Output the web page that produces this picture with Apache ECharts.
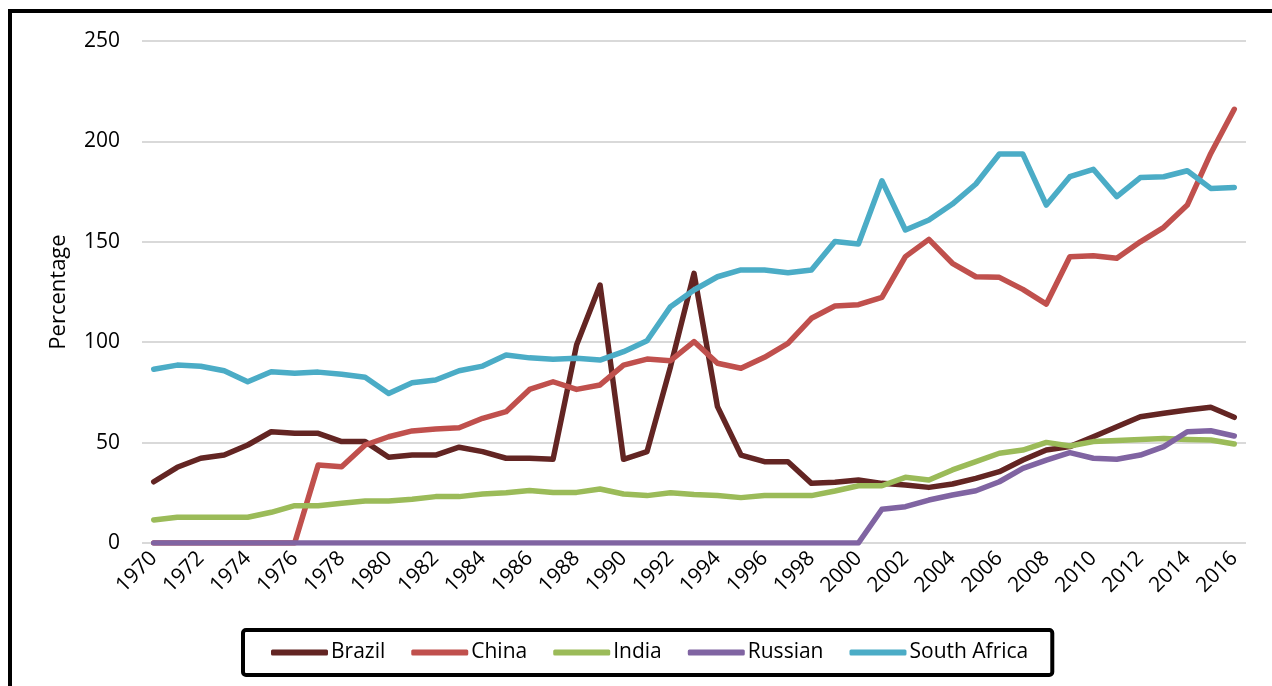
<!DOCTYPE html>
<html>
<head>
<meta charset="utf-8">
<script src="https://cdn.jsdelivr.net/npm/echarts@6/dist/echarts.min.js"></script>
<style>
html,body{margin:0;padding:0;background:#fff;}
#chart{width:1272px;height:686px;}
</style>
</head>
<body>
<div id="chart"></div>
<script>
var years = [];
for (var y = 1970; y <= 2016; y++) years.push(String(y));

var brazil = [30.5, 37.7, 42.2, 43.8, 48.8, 55.4, 54.6, 54.6, 50.5, 50.5,
  42.7, 43.8, 43.8, 47.7, 45.5, 42.2, 42.2, 41.7, 98.6, 128.5,
  41.7, 45.5, 87.8, 134.3, 67.9, 43.8, 40.5, 40.5, 29.7, 30.2,
  31.4, 29.7, 28.9, 27.7, 29.4, 32.2, 35.5, 41.3, 46.3, 48,
  52.9, 57.9, 62.9, 64.6, 66.2, 67.6, 62.6];
var china = [0, 0, 0, 0, 0, 0, 0, 38.8, 38, 48.8,
  52.9, 55.8, 56.8, 57.4, 62.1, 65.4, 76.5, 80.3, 76.5, 78.7,
  88.6, 91.6, 90.8, 100.3, 89.5, 87, 92.5, 99.4, 111.9, 118,
  118.7, 122.3, 142.6, 151.2, 139.3, 132.6, 132.3, 126.3, 119, 142.6,
  143.1, 141.8, 150, 157.2, 168.3, 194, 216];
var india = [11.5, 12.8, 12.8, 12.8, 12.8, 15.3, 18.6, 18.6, 19.8, 20.9,
  20.9, 21.8, 23.1, 23.1, 24.4, 25, 26.2, 25.2, 25.2, 26.9,
  24.4, 23.6, 25, 24.1, 23.6, 22.6, 23.6, 23.6, 23.6, 25.9,
  28.5, 28.5, 32.7, 31.4, 36.4, 40.5, 44.7, 46.3, 50.1, 48.3,
  50.5, 51, 51.6, 52.1, 51.6, 51.3, 49.3];
var russian = [0, 0, 0, 0, 0, 0, 0, 0, 0, 0,
  0, 0, 0, 0, 0, 0, 0, 0, 0, 0,
  0, 0, 0, 0, 0, 0, 0, 0, 0, 0,
  0, 16.8, 18.1, 21.4, 23.9, 26, 30.5, 37.2, 41.3, 45,
  42.2, 41.7, 43.8, 48, 55.4, 55.9, 53.3];
var southAfrica = [86.5, 88.6, 88, 85.8, 80.3, 85.3, 84.5, 85.1, 84, 82.5,
  74.5, 79.8, 81.2, 85.8, 88.1, 93.6, 92.2, 91.5, 92, 91.1,
  95.3, 100.7, 117.7, 126, 132.6, 136, 136, 134.6, 136, 150.2,
  148.9, 180.4, 155.9, 160.9, 168.8, 178.8, 193.7, 193.7, 168.3, 182.4,
  186.1, 172.5, 182, 182.4, 185.4, 176.6, 177.1];

var seriesNames = ['Brazil', 'China', 'India', 'Russian', 'South Africa'];
var seriesData = [brazil, china, india, russian, southAfrica];
var colors = ['#632523', '#C0504D', '#9BBB59', '#8064A2', '#4BACC6'];

var FONT = '"Open Sans", "Noto Sans", sans-serif';

var chart = echarts.init(document.getElementById('chart'), null, {renderer: 'canvas'});
chart.setOption({
  animation: false,
  backgroundColor: '#fff',
  color: colors,
  textStyle: {fontFamily: FONT, color: '#000'},
  graphic: [{
    type: 'rect',
    z: -1,
    shape: {x: 10, y: 11, width: 1300, height: 700},
    style: {fill: 'none', stroke: '#000', lineWidth: 4}
  }],
  grid: {left: 142, right: 26, top: 41, bottom: 143, containLabel: false},
  legend: {
    data: seriesNames,
    left: 243,
    top: 630,
    orient: 'horizontal',
    icon: 'roundRect',
    itemWidth: 57,
    itemHeight: 6,
    itemGap: 26,
    padding: [12, 24, 12, 28],
    borderColor: '#000',
    borderWidth: 4,
    borderRadius: 3,
    textStyle: {fontFamily: FONT, fontSize: 21, color: '#000', padding: [0, 0, 0, -2]}
  },
  xAxis: {
    type: 'category',
    data: years,
    boundaryGap: true,
    axisLine: {show: false},
    axisTick: {show: false},
    axisLabel: {
      interval: 1,
      rotate: 45,
      margin: 12,
      fontFamily: FONT,
      fontSize: 21,
      color: '#000'
    },
    splitLine: {show: false}
  },
  yAxis: {
    type: 'value',
    min: 0,
    max: 250,
    interval: 50,
    name: 'Percentage',
    nameLocation: 'middle',
    nameGap: 72,
    nameRotate: 90,
    nameTextStyle: {fontFamily: FONT, fontSize: 22, color: '#000'},
    axisLine: {show: false},
    axisTick: {show: false},
    axisLabel: {fontFamily: FONT, fontSize: 21, color: '#000', margin: 22},
    splitLine: {lineStyle: {color: '#D9D9D9', width: 2}}
  },
  series: seriesNames.map(function (n, i) {
    return {
      name: n,
      type: 'line',
      data: seriesData[i],
      showSymbol: false,
      symbol: 'none',
      lineStyle: {width: 5.5, color: colors[i], cap: 'round', join: 'round'},
      itemStyle: {color: colors[i]}
    };
  })
});
</script>
</body>
</html>
